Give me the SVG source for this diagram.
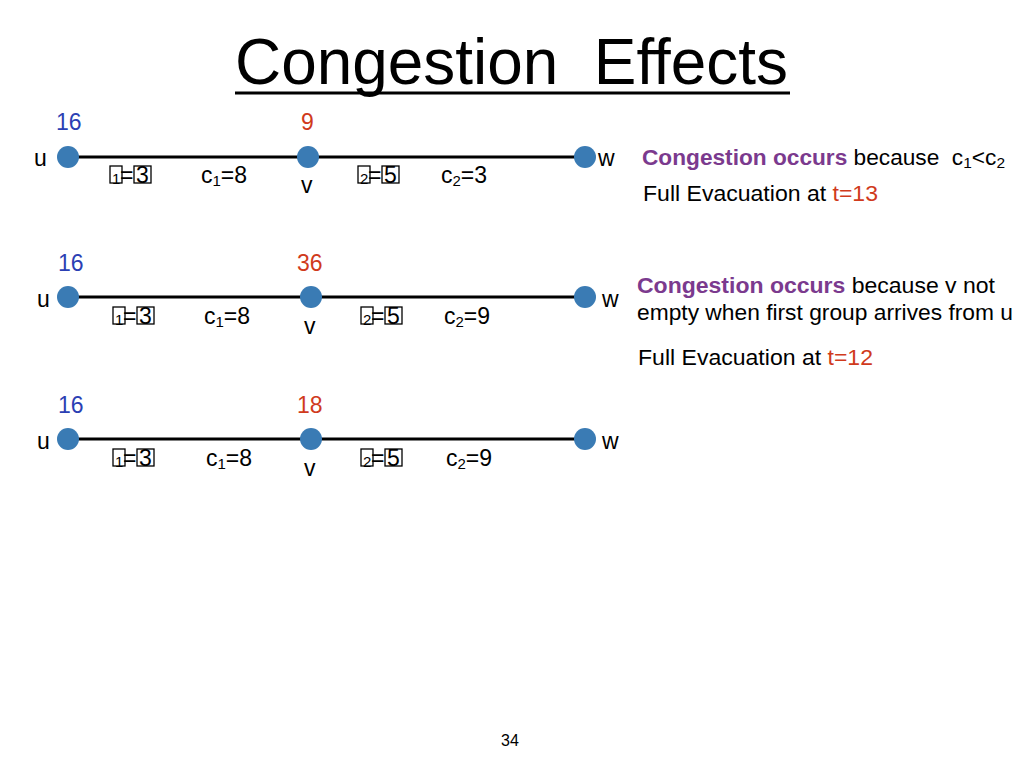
<svg xmlns="http://www.w3.org/2000/svg" width="1024" height="768" viewBox="0 0 1024 768">
<style>
text{font-family:"Liberation Sans",Arial,sans-serif;fill:#000}
.lbl{font-size:23px}
.num{font-size:23px}
.blue{fill:#2b3fb4}
.red{fill:#d03a1c}
.pur{fill:#7b3a8e;font-weight:bold}
.txt{font-size:22px}
.sub{font-size:15px}
.node{fill:#3a7bb4}
.edge{stroke:#000;stroke-width:3}
.tofu{fill:none;stroke:#000;stroke-width:1.3}
</style>
<rect width="1024" height="768" fill="#fff"/>
<text x="235" y="84" font-size="64" textLength="553" lengthAdjust="spacingAndGlyphs" xml:space="preserve" style="white-space:pre">Congestion  Effects</text>
<line x1="235" y1="93" x2="790" y2="93" stroke="#000" stroke-width="3"/>
<g id="connectors">
<line class="edge" x1="68" y1="157" x2="585" y2="157"/>
<line class="edge" x1="68" y1="297" x2="585" y2="297"/>
<line class="edge" x1="68" y1="439" x2="585" y2="439"/>
</g>
<g id="row1">
<g id="u1"><circle class="node" cx="68" cy="157" r="11"/><text class="lbl" x="34" y="166">u</text><text class="num blue" x="56" y="130">16</text></g>
<g id="v1"><circle class="node" cx="308" cy="157" r="11"/><text class="lbl" x="301" y="193">v</text><text class="num red" x="301" y="130">9</text></g>
<g id="w1"><circle class="node" cx="585" cy="157" r="11"/><text class="lbl" x="598" y="166">w</text></g>
<rect class="tofu" x="110" y="166" width="12" height="17"/><text class="sub" x="112" y="184">1</text><text class="lbl" x="120" y="183">=</text><rect class="tofu" x="134" y="166" width="17" height="17"/><text class="lbl" x="136" y="183">3</text>
<text class="lbl" x="201" y="183">c<tspan class="sub" dy="3">1</tspan><tspan dy="-3">=8</tspan></text>
<rect class="tofu" x="358" y="166" width="12" height="17"/><text class="sub" x="360" y="184">2</text><text class="lbl" x="368" y="183">=</text><rect class="tofu" x="382" y="166" width="17" height="17"/><text class="lbl" x="384" y="183">5</text>
<text class="lbl" x="441" y="183">c<tspan class="sub" dy="3">2</tspan><tspan dy="-3">=3</tspan></text>
<text class="txt" x="642" y="165" textLength="363" lengthAdjust="spacingAndGlyphs" xml:space="preserve" style="white-space:pre"><tspan class="pur">Congestion occurs</tspan> because  c<tspan class="sub" dy="3">1</tspan><tspan dy="-3">&lt;c</tspan><tspan class="sub" dy="3">2</tspan></text>
<text class="txt" x="643" y="201" textLength="235" lengthAdjust="spacingAndGlyphs">Full Evacuation at <tspan class="red">t=13</tspan></text>
</g>
<g id="row2">
<g id="u2"><circle class="node" cx="68" cy="297" r="11"/><text class="lbl" x="37" y="307">u</text><text class="num blue" x="58" y="271">16</text></g>
<g id="v2"><circle class="node" cx="311" cy="297" r="11"/><text class="lbl" x="304" y="334">v</text><text class="num red" x="297" y="271">36</text></g>
<g id="w2"><circle class="node" cx="585" cy="297" r="11"/><text class="lbl" x="602" y="307">w</text></g>
<rect class="tofu" x="113" y="307" width="12" height="17"/><text class="sub" x="115" y="325">1</text><text class="lbl" x="123" y="324">=</text><rect class="tofu" x="137" y="307" width="17" height="17"/><text class="lbl" x="139" y="324">3</text>
<text class="lbl" x="204" y="324">c<tspan class="sub" dy="3">1</tspan><tspan dy="-3">=8</tspan></text>
<rect class="tofu" x="361" y="307" width="12" height="17"/><text class="sub" x="363" y="325">2</text><text class="lbl" x="371" y="324">=</text><rect class="tofu" x="385" y="307" width="17" height="17"/><text class="lbl" x="387" y="324">5</text>
<text class="lbl" x="444" y="324">c<tspan class="sub" dy="3">2</tspan><tspan dy="-3">=9</tspan></text>
<text class="txt" x="637" y="293" textLength="358" lengthAdjust="spacingAndGlyphs"><tspan class="pur">Congestion occurs</tspan> because v not</text>
<text class="txt" x="637" y="320" textLength="376" lengthAdjust="spacingAndGlyphs">empty when first group arrives from u</text>
<text class="txt" x="638" y="365" textLength="235" lengthAdjust="spacingAndGlyphs">Full Evacuation at <tspan class="red">t=12</tspan></text>
</g>
<g id="row3">
<g id="u3"><circle class="node" cx="68" cy="439" r="11"/><text class="lbl" x="37" y="449">u</text><text class="num blue" x="58" y="413">16</text></g>
<g id="v3"><circle class="node" cx="311" cy="439" r="11"/><text class="lbl" x="304" y="476">v</text><text class="num red" x="297" y="413">18</text></g>
<g id="w3"><circle class="node" cx="585" cy="439" r="11"/><text class="lbl" x="602" y="449">w</text></g>
<rect class="tofu" x="113" y="449" width="12" height="17"/><text class="sub" x="115" y="467">1</text><text class="lbl" x="123" y="466">=</text><rect class="tofu" x="137" y="449" width="17" height="17"/><text class="lbl" x="139" y="466">3</text>
<text class="lbl" x="206" y="466">c<tspan class="sub" dy="3">1</tspan><tspan dy="-3">=8</tspan></text>
<rect class="tofu" x="361" y="449" width="12" height="17"/><text class="sub" x="363" y="467">2</text><text class="lbl" x="371" y="466">=</text><rect class="tofu" x="385" y="449" width="17" height="17"/><text class="lbl" x="387" y="466">5</text>
<text class="lbl" x="446" y="466">c<tspan class="sub" dy="3">2</tspan><tspan dy="-3">=9</tspan></text>
</g>
<text x="510" y="746" font-size="16" text-anchor="middle">34</text>
</svg>
